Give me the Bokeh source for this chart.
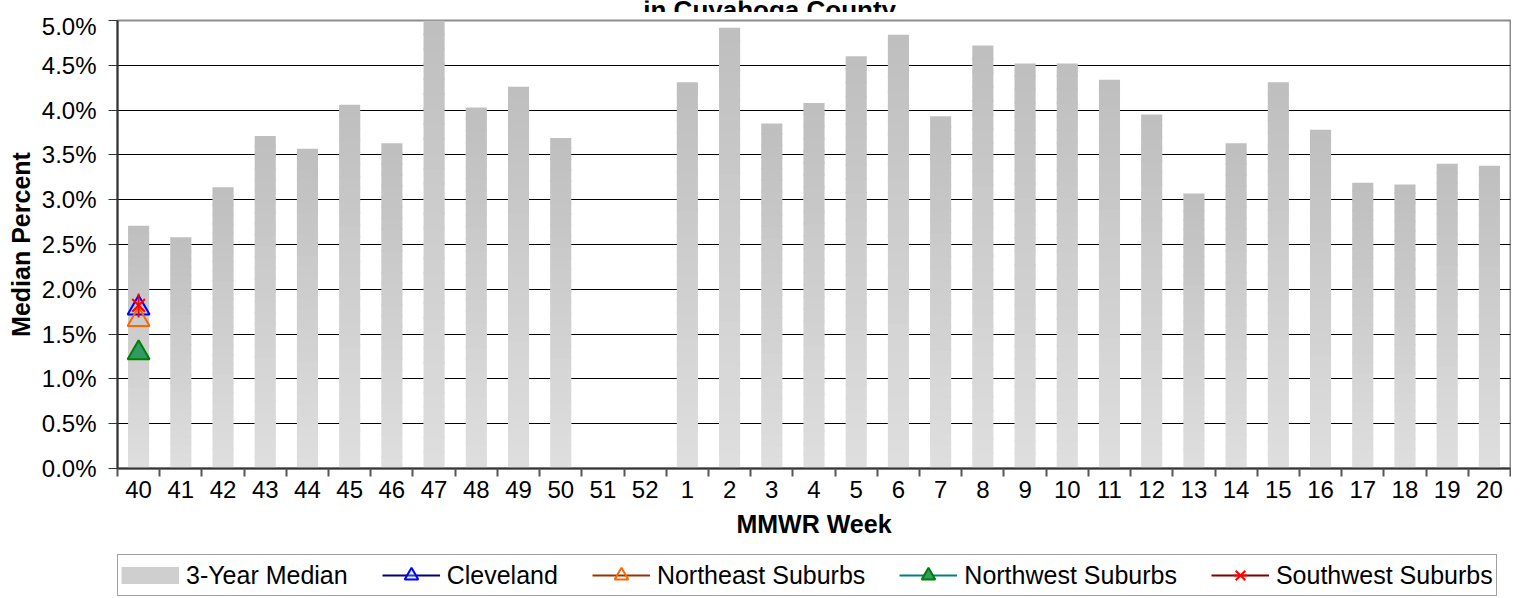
import numpy as np
from bokeh.plotting import figure
from bokeh.layouts import column
from bokeh.models import (Range1d, FixedTicker, PrintfTickFormatter, ColumnDataSource,
                          Legend, LegendItem)
from bokeh.core.properties import value
from bokeh.embed import file_html
from bokeh.resources import INLINE

# ---------------- data ----------------
weeks = ["40", "41", "42", "43", "44", "45", "46", "47", "48", "49", "50", "51", "52",
         "1", "2", "3", "4", "5", "6", "7", "8", "9", "10", "11", "12", "13", "14",
         "15", "16", "17", "18", "19", "20"]
median_3yr = [2.71, 2.58, 3.14, 3.71, 3.57, 4.06, 3.63, 5.00, 4.03, 4.26, 3.69, None, None,
              4.31, 4.92, 3.85, 4.08, 4.60, 4.84, 3.93, 4.72, 4.52, 4.52, 4.34, 3.95, 3.07,
              3.63, 4.31, 3.78, 3.19, 3.17, 3.40, 3.38]
cleveland = [1.79]
northeast = [1.66]
northwest = [1.29]
southwest = [1.82]
yticks = [0.0, 0.5, 1.0, 1.5, 2.0, 2.5, 3.0, 3.5, 4.0, 4.5, 5.0]
title_text = "in Cuyahoga County"
series_names = ["3-Year Median", "Cleveland", "Northeast Suburbs", "Northwest Suburbs",
                "Southwest Suburbs"]

FONT = "Liberation Sans"
FW = 1393          # frame width
BL, BR = 117, 1    # left / right borders

# ---------------- title strip (second title line, cropped at the top) ----------------
tf = figure(frame_width=FW, frame_height=12, output_backend="svg", toolbar_location=None,
            x_range=Range1d(0, len(weeks)), y_range=Range1d(0, 12),
            x_axis_type=None, y_axis_type=None,
            min_border_left=BL, min_border_right=BR, min_border_top=0, min_border_bottom=0,
            background_fill_color="white", border_fill_color="white")
tf.outline_line_color = None
tf.grid.visible = False
tf.text(x=[15.45], y=[3], text=[title_text], text_font=value(FONT), text_font_size="26px",
        text_font_style="bold", text_align="center", text_baseline="alphabetic",
        text_color="black")

# ---------------- main figure ----------------
p = figure(frame_width=FW, frame_height=448, output_backend="svg", toolbar_location=None,
           x_range=Range1d(0, len(weeks)), y_range=Range1d(0, 5.0),
           min_border_left=BL, min_border_right=BR, min_border_top=8, min_border_bottom=86,
           background_fill_color="white", border_fill_color="white")
p.outline_line_color = "#8c8c8c"
p.outline_line_width = 2

centers = [i + 0.5 for i in range(len(weeks))]
bounds = [float(i) for i in range(len(weeks) + 1)]

# gradient bars: each bar split into slices (light at bottom, darker at top)
N = 30
xs, bots, tops, cols = [], [], [], []
for c, v in zip(centers, median_3yr):
    if v is None:
        continue
    for k in range(N):
        frac = (k + 0.5) / N
        g = int(round(223 - (223 - 190) * frac))
        xs.append(c)
        bots.append(v * k / N)
        tops.append(min(v, v * (k + 1.15) / N))
        cols.append("#%02x%02x%02x" % (g, g, g))
src = ColumnDataSource(dict(x=xs, bottom=bots, top=tops, color=cols))
p.vbar(x="x", bottom="bottom", top="top", width=0.5, source=src,
       fill_color="color", line_color=None)

def series_x(vals):
    return centers[:len(vals)]

STY = {
    "cle": dict(line="#000080", marker="triangle", mline="#0000ff", fill="#99ccff", alpha=0.35),
    "ne": dict(line="#993300", marker="triangle", mline="#ff6600", fill=None, alpha=1.0),
    "nw": dict(line="#008080", marker="triangle", mline="#008000", fill="#339966", alpha=1.0),
}
for key, vals in (("cle", cleveland), ("ne", northeast), ("nw", northwest)):
    s = STY[key]
    p.line(series_x(vals), vals, line_color=s["line"], line_width=2)
    p.scatter(series_x(vals), vals, marker=s["marker"], size=22, line_color=s["mline"],
              line_width=2, fill_color=s["fill"], fill_alpha=s["alpha"])
p.line(series_x(southwest), southwest, line_color="#800000", line_width=2)
p.scatter(series_x(southwest), southwest, marker="x", size=18, line_color="#ff0000", line_width=2)
p.scatter(series_x(southwest), southwest, marker="dash", size=24, angle=np.pi / 2,
          line_color="#ff0000", line_width=2)

# ---------------- axes ----------------
xa = p.xaxis[0]
xa.ticker = FixedTicker(ticks=centers, minor_ticks=bounds)
xa.major_label_overrides = {c: w for c, w in zip(centers, weeks)}
xa.major_tick_out = 8
xa.major_tick_in = 0
xa.major_tick_line_color = None
xa.minor_tick_out = 8
xa.minor_tick_in = 0
xa.minor_tick_line_color = "#555555"
xa.minor_tick_line_width = 2
xa.axis_line_color = "#333333"
xa.axis_line_width = 2
xa.major_label_text_font = FONT
xa.major_label_text_font_size = "24px"
xa.major_label_text_color = "black"
xa.major_label_standoff = 4
xa.axis_label = "MMWR Week"
xa.axis_label_text_font = FONT
xa.axis_label_text_font_size = "25px"
xa.axis_label_text_font_style = "bold"
xa.axis_label_text_color = "black"
xa.axis_label_standoff = 9

ya = p.yaxis[0]
ya.ticker = FixedTicker(ticks=yticks, minor_ticks=[])
ya.formatter = PrintfTickFormatter(format="%.1f%%")
ya.major_tick_out = 9
ya.major_tick_in = 0
ya.major_tick_line_color = "#333333"
ya.major_tick_line_width = 1
ya.axis_line_color = "#333333"
ya.axis_line_width = 2
ya.major_label_text_font = FONT
ya.major_label_text_font_size = "24px"
ya.major_label_text_color = "black"
ya.major_label_standoff = 12
ya.axis_label = "Median Percent"
ya.axis_label_text_font = FONT
ya.axis_label_text_font_size = "25px"
ya.axis_label_text_font_style = "bold"
ya.axis_label_text_color = "black"
ya.axis_label_standoff = 4

p.xgrid.visible = False
p.ygrid.ticker = FixedTicker(ticks=yticks)
p.ygrid.grid_line_color = "black"
p.ygrid.grid_line_width = 1

# ---------------- legend strip (legend keys styled like the plot's series) ----------------
lf = figure(frame_width=FW, frame_height=42, output_backend="svg", toolbar_location=None,
            x_range=Range1d(0, 1), y_range=Range1d(0, 1),
            x_axis_type=None, y_axis_type=None,
            min_border_left=BL, min_border_right=BR, min_border_top=0, min_border_bottom=0,
            background_fill_color="white", border_fill_color="white")
lf.outline_line_color = None
lf.grid.visible = False
# key renderers hold one point far outside the strip's visible range
OFF = [-10.0]
k_bar = lf.line(x=OFF, y=OFF, line_color="#cfcfcf", line_width=17)
k_items = [LegendItem(label=series_names[0], renderers=[k_bar])]
for name, key in zip(series_names[1:4], ("cle", "ne", "nw")):
    s = STY[key]
    kl = lf.line(x=OFF, y=OFF, line_color=s["line"], line_width=2)
    km = lf.scatter(x=OFF, y=OFF, marker=s["marker"], size=14, line_color=s["mline"],
                    line_width=2, fill_color=s["fill"], fill_alpha=s["alpha"])
    k_items.append(LegendItem(label=name, renderers=[kl, km]))
kl = lf.line(x=OFF, y=OFF, line_color="#800000", line_width=2)
kx = lf.scatter(x=OFF, y=OFF, marker="x", size=14, line_color="#ff0000", line_width=2)
kd = lf.scatter(x=OFF, y=OFF, marker="dash", size=16, angle=np.pi / 2,
                line_color="#ff0000", line_width=2)
k_items.append(LegendItem(label=series_names[4], renderers=[kl, kx, kd]))

legend = Legend(items=k_items, orientation="horizontal", location="top_left")
legend.label_text_font = FONT
legend.label_text_font_size = "25px"
legend.label_text_color = "black"
legend.glyph_width = 58
legend.glyph_height = 34
legend.label_height = 20
legend.label_standoff = 7
legend.spacing = 34
legend.padding = 3
legend.margin = 0
legend.border_line_color = "#444444"
legend.border_line_width = 1
legend.background_fill_color = "white"
legend.background_fill_alpha = 1.0
lf.add_layout(legend, "center")

layout = column(tf, p, lf, spacing=0)
open("out.html", "w").write(file_html(layout, INLINE))
